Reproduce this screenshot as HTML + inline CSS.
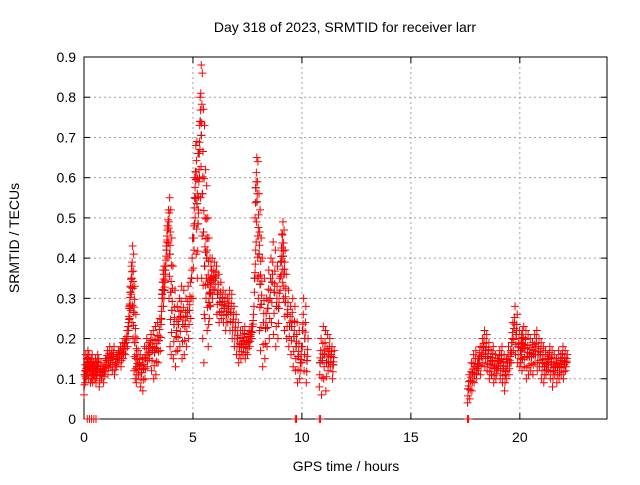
<!DOCTYPE html>
<html><head><meta charset="utf-8"><style>
body{margin:0;background:#fff;}
svg text{font-family:"Liberation Sans",sans-serif;font-size:14px;fill:#000;}
</style></head><body>
<svg id="c" width="640" height="480" xmlns="http://www.w3.org/2000/svg">
<rect width="640" height="480" fill="#fff"/>
<text x="345" y="32" text-anchor="middle">Day 318 of 2023, SRMTID for receiver larr</text>
<text x="346" y="471" text-anchor="middle">GPS time / hours</text>
<text transform="translate(19,238) rotate(-90)" text-anchor="middle">SRMTID / TECUs</text>
<g id="grid"></g><g id="axes"></g><g id="marks"></g>
</svg>
<script>
const xTicks=[0,5,10,15,20];
const yTicks=[0,0.1,0.2,0.3,0.4,0.5,0.6,0.7,0.8,0.9];
const yTickLabels=["0","0.1","0.2","0.3","0.4","0.5","0.6","0.7","0.8","0.9"];
const redTimes=[0.0,0.05,0.1,0.15,0.2,0.25,0.3,0.35,0.4,0.45,0.5,0.55,0.6,0.7,0.8,0.9,1.0,1.1,1.2,1.3,1.4,1.5,1.6,1.7,1.8,1.9,2.0,2.05,2.1,2.15,2.2,2.25,2.3,2.35,2.4,2.5,2.6,2.7,2.8,2.9,3.0,3.1,3.2,3.3,3.4,3.5,3.55,3.6,3.65,3.7,3.75,3.8,3.85,3.9,3.95,4.0,4.1,4.2,4.3,4.4,4.5,4.6,4.7,4.8,4.9,5.0,5.05,5.1,5.15,5.2,5.25,5.3,5.35,5.4,5.45,5.5,5.55,5.6,5.65,5.7,5.75,5.8,5.9,6.0,6.1,6.2,6.3,6.4,6.5,6.6,6.7,6.8,6.9,7.0,7.1,7.2,7.3,7.4,7.5,7.6,7.7,7.8,7.85,7.9,7.95,8.0,8.05,8.1,8.2,8.3,8.4,8.5,8.6,8.7,8.8,8.9,9.0,9.05,9.1,9.15,9.2,9.3,9.4,9.5,9.6,9.7,9.8,9.9,10.0,10.1,10.2,10.8,10.9,11.0,11.1,11.2,11.3,11.4,17.6,17.7,17.8,17.9,18.0,18.1,18.2,18.3,18.4,18.5,18.6,18.7,18.8,18.9,19.0,19.1,19.2,19.3,19.4,19.5,19.6,19.7,19.8,19.9,20.0,20.05,20.1,20.2,20.3,20.4,20.5,20.6,20.7,20.8,20.9,21.0,21.1,21.2,21.3,21.4,21.5,21.6,21.7,21.8,21.9,22.0,22.1,22.2,22.3,22.4,22.5,22.6,22.7];
const redHigh=[0.16,0.15,0.17,0.16,0.14,0.15,0.16,0.14,0.13,0.15,0.14,0.16,0.15,0.14,0.13,0.15,0.17,0.18,0.17,0.18,0.16,0.17,0.18,0.19,0.20,0.22,0.28,0.33,0.38,0.43,0.41,0.33,0.26,0.20,0.17,0.16,0.15,0.18,0.20,0.19,0.21,0.22,0.23,0.24,0.25,0.30,0.37,0.38,0.36,0.42,0.48,0.52,0.55,0.52,0.45,0.38,0.32,0.28,0.30,0.33,0.32,0.30,0.33,0.34,0.45,0.60,0.68,0.69,0.66,0.62,0.80,0.88,0.86,0.77,0.73,0.62,0.58,0.50,0.45,0.40,0.38,0.40,0.39,0.38,0.36,0.34,0.32,0.31,0.30,0.32,0.31,0.28,0.26,0.24,0.22,0.22,0.23,0.21,0.22,0.23,0.26,0.42,0.65,0.64,0.56,0.52,0.45,0.40,0.35,0.30,0.37,0.40,0.44,0.42,0.38,0.35,0.46,0.49,0.47,0.42,0.36,0.32,0.28,0.30,0.28,0.24,0.22,0.18,0.30,0.28,0.20,0.20,0.23,0.22,0.21,0.20,0.18,0.17,0.11,0.14,0.16,0.17,0.15,0.18,0.20,0.22,0.21,0.19,0.17,0.18,0.16,0.15,0.17,0.18,0.16,0.15,0.18,0.17,0.24,0.28,0.26,0.22,0.21,0.22,0.23,0.22,0.21,0.20,0.19,0.21,0.22,0.20,0.19,0.18,0.17,0.16,0.18,0.17,0.16,0.15,0.17,0.16,0.18,0.17,0.16,0.18];
const redLow=[0.06,0.09,0.10,0.11,0.10,0.12,0.09,0.10,0.09,0.11,0.10,0.09,0.11,0.08,0.10,0.09,0.12,0.11,0.13,0.12,0.11,0.13,0.14,0.13,0.15,0.16,0.18,0.22,0.25,0.27,0.24,0.20,0.12,0.10,0.09,0.11,0.08,0.07,0.10,0.13,0.15,0.12,0.10,0.11,0.14,0.17,0.25,0.30,0.28,0.32,0.38,0.42,0.40,0.30,0.18,0.16,0.15,0.13,0.17,0.18,0.15,0.16,0.18,0.20,0.25,0.30,0.42,0.50,0.41,0.35,0.52,0.60,0.55,0.35,0.20,0.14,0.25,0.30,0.22,0.18,0.25,0.28,0.30,0.32,0.26,0.24,0.25,0.24,0.22,0.24,0.22,0.20,0.18,0.16,0.14,0.15,0.16,0.15,0.16,0.18,0.20,0.28,0.50,0.44,0.35,0.30,0.22,0.17,0.13,0.15,0.18,0.20,0.24,0.21,0.18,0.20,0.32,0.36,0.34,0.30,0.22,0.20,0.18,0.16,0.13,0.12,0.09,0.10,0.14,0.12,0.09,0.08,0.06,0.10,0.07,0.12,0.13,0.10,0.04,0.05,0.07,0.09,0.10,0.12,0.11,0.14,0.13,0.12,0.10,0.11,0.09,0.10,0.12,0.10,0.09,0.07,0.10,0.11,0.14,0.17,0.16,0.14,0.13,0.14,0.12,0.13,0.10,0.11,0.12,0.11,0.14,0.12,0.13,0.10,0.09,0.11,0.12,0.10,0.08,0.11,0.09,0.10,0.11,0.10,0.12];
const zeroTimes=[0.15,0.25,0.35,0.45,0.55,9.7,9.75,10.8,10.85,17.6,17.65];
const W0=84,W1=607,H0=419,H1=57;
const xs=t=>W0+(W1-W0)*t/24;
const ys=v=>H0-(H0-H1)*v/0.9;
const NS="http://www.w3.org/2000/svg";
function mk(tag,attrs,parent){const e=document.createElementNS(NS,tag);for(const k in attrs)e.setAttribute(k,attrs[k]);parent.appendChild(e);return e;}
const grid=document.getElementById('grid'),axes=document.getElementById('axes'),marks=document.getElementById('marks');
yTicks.forEach((v,i)=>{
  if(i>0&&i<yTicks.length-1){const g=mk('line',{x1:W0,x2:W1,y1:ys(v),y2:ys(v),stroke:'#a0a0a0','stroke-dasharray':'2,3'},grid);
  
  }
  const t=mk('text',{x:W0-8,y:ys(v)+5,'text-anchor':'end'},axes);t.textContent=yTickLabels[i];
  
  
  mk('line',{x1:W0,x2:W0+6,y1:ys(v),y2:ys(v),stroke:'#000'},axes);
  mk('line',{x1:W1,x2:W1-6,y1:ys(v),y2:ys(v),stroke:'#000'},axes);
});
xTicks.forEach(v=>{
  if(v>0){const g=mk('line',{x1:xs(v),x2:xs(v),y1:H0,y2:H1,stroke:'#a0a0a0','stroke-dasharray':'2,3'},grid);
  
  }
  const t=mk('text',{x:xs(v),y:H0+23,'text-anchor':'middle'},axes);t.textContent=String(v);
  
  
  mk('line',{x1:xs(v),x2:xs(v),y1:H0,y2:H0-6,stroke:'#000'},axes);
  mk('line',{x1:xs(v),x2:xs(v),y1:H1,y2:H1+6,stroke:'#000'},axes);
});
const fr=mk('rect',{x:W0,y:H1,width:W1-W0,height:H0-H1,fill:'none',stroke:'#000'},axes);


function cross(t,v,col){const x=xs(t),y=ys(v);
  const p=mk('path',{d:`M${x-4},${y}H${x+4}M${x},${y-4}V${y+4}`,stroke:col,'stroke-width':1,fill:'none'},marks);
  
  }
// black series underneath
redTimes.forEach((t,i)=>{cross(t+0.03,(redHigh[i]+redLow[i])/2,'#000');});
redTimes.forEach((t,i)=>{
  const hi=redHigh[i],lo=redLow[i];
  for(let k=0;k<=4;k++){cross(t+k*0.02,lo+(hi-lo)*k/4,'#f00');}
  cross(t+0.05,(hi+lo)/2+(hi-lo)*0.1,'#f00');
});
zeroTimes.forEach(t=>cross(t,0,'#f00'));
</script>
</body></html>
